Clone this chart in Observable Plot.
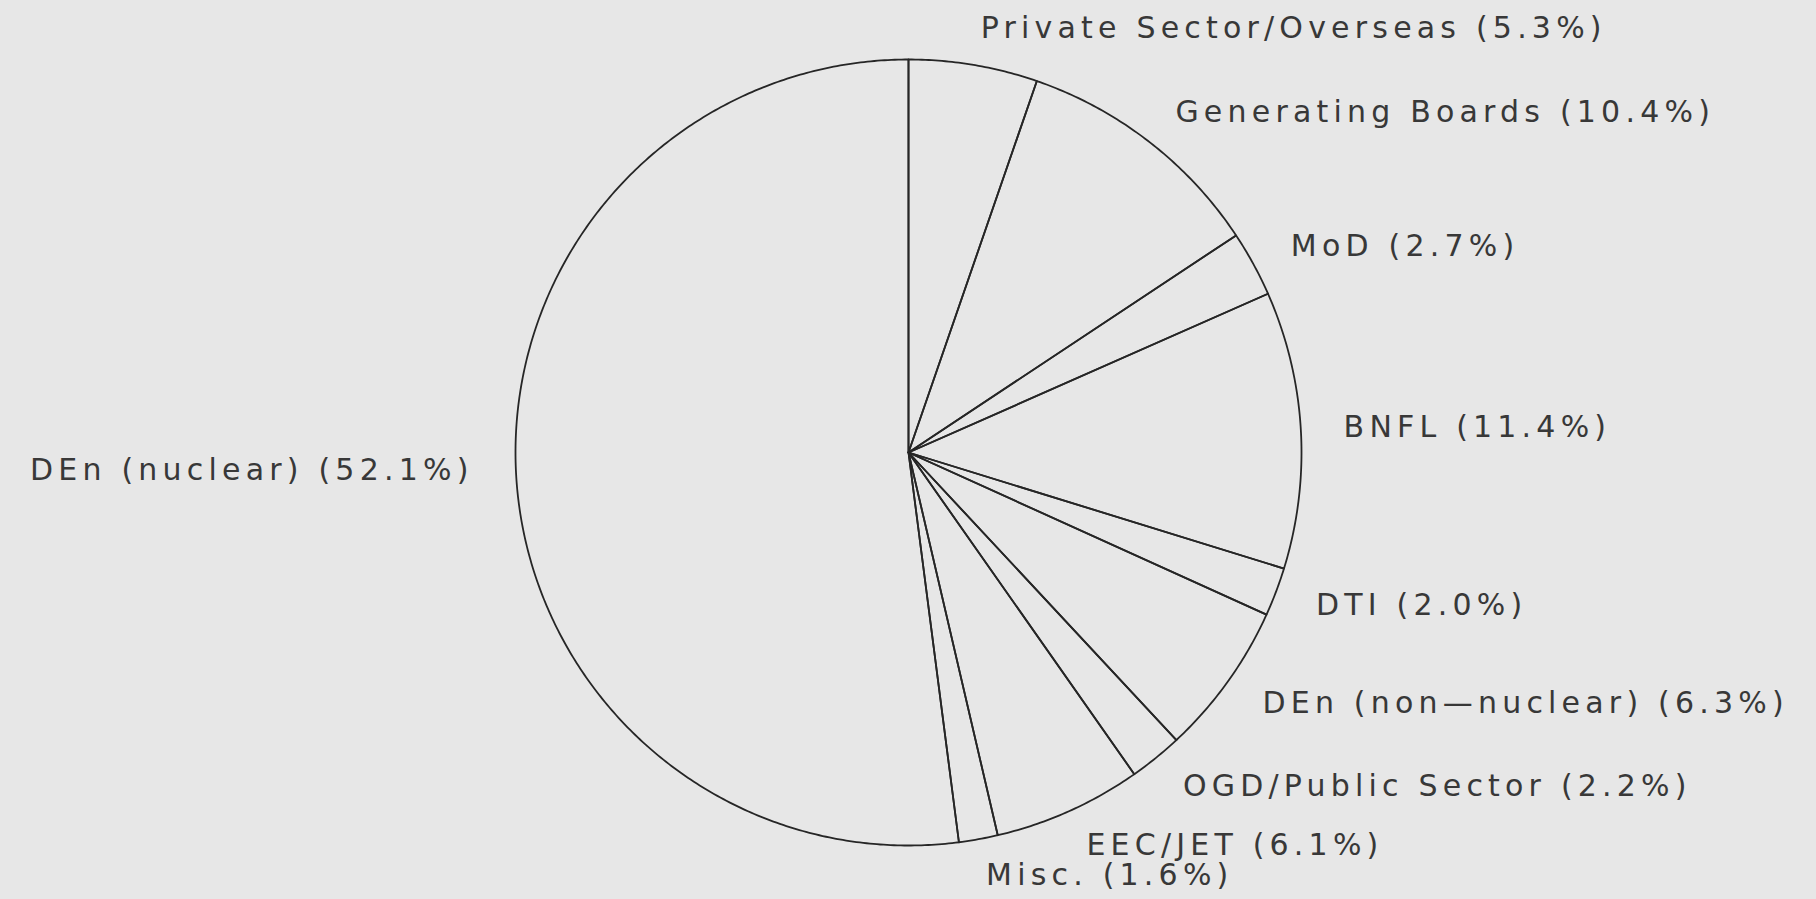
<!DOCTYPE html>
<html>
<head>
<meta charset="utf-8">
<script src="https://cdn.jsdelivr.net/npm/d3@7"></script>
<script src="https://cdn.jsdelivr.net/npm/@observablehq/plot@0.6"></script>
<style>
  html, body { margin: 0; padding: 0; background: #e7e7e7; }
  #chart { width: 1816px; height: 899px; overflow: hidden; }
</style>
</head>
<body>
<div id="chart"></div>
<script>
// Categories in drawing order, clockwise from 12 o'clock
const categories = [
  "Private Sector/Overseas",
  "Generating Boards",
  "MoD",
  "BNFL",
  "DTI",
  "DEn (non\u2014nuclear)",
  "OGD/Public Sector",
  "EEC/JET",
  "Misc.",
  "DEn (nuclear)"
];
// Percentage shares
const shares = [5.3, 10.4, 2.7, 11.4, 2.0, 6.3, 2.2, 6.1, 1.6, 52.1];

const labelTexts = categories.map((c, i) => `${c} (${shares[i].toFixed(1)}%)`);

// d3.pie: angle 0 at 12 o'clock, increasing clockwise
const arcs = d3.pie().sort(null).value(d => d)(shares);

// slice outlines in unit-circle coordinates (y up)
const slicePts = arcs.flatMap((a, i) => {
  const pts = [{cat: categories[i], x: 0, y: 0}];
  const n = Math.max(2, Math.ceil((a.endAngle - a.startAngle) / (Math.PI / 360)));
  for (let k = 0; k <= n; ++k) {
    const t = a.startAngle + (a.endAngle - a.startAngle) * k / n;
    pts.push({cat: categories[i], x: Math.sin(t), y: Math.cos(t)});
  }
  pts.push({cat: categories[i], x: 0, y: 0});
  return pts;
});

const LABEL_RX = 1.109, LABEL_RY = 1.094;
const labels = arcs.map((a, i) => {
  const mid = (a.startAngle + a.endAngle) / 2;
  return {text: labelTexts[i], x: LABEL_RX * Math.sin(mid), y: LABEL_RY * Math.cos(mid)};
});

const R_PX = 393, CX = 908, CY = 452, W = 1816, H = 899;

const chart = Plot.plot({
  width: W,
  height: H,
  margin: 0,
  x: {domain: [-CX / R_PX, (W - CX) / R_PX], axis: null},
  y: {domain: [-(H - CY) / R_PX, CY / R_PX], axis: null},
  style: {background: "transparent", fontFamily: "'DejaVu Sans', sans-serif", letterSpacing: "5.2px", overflow: "visible"},
  marks: [
    Plot.line(slicePts, {x: "x", y: "y", z: "cat", stroke: "#262626", strokeWidth: 1.8, strokeLinejoin: "round"}),
    Plot.text(labels.filter(d => d.x >= 0), {x: "x", y: "y", text: "text", textAnchor: "start", fill: "#383838", fontSize: 30}),
    Plot.text(labels.filter(d => d.x < 0), {x: "x", y: "y", text: "text", textAnchor: "end", lineAnchor: "bottom", fill: "#383838", fontSize: 30})
  ]
});
document.getElementById("chart").appendChild(chart);
</script>
</body>
</html>
